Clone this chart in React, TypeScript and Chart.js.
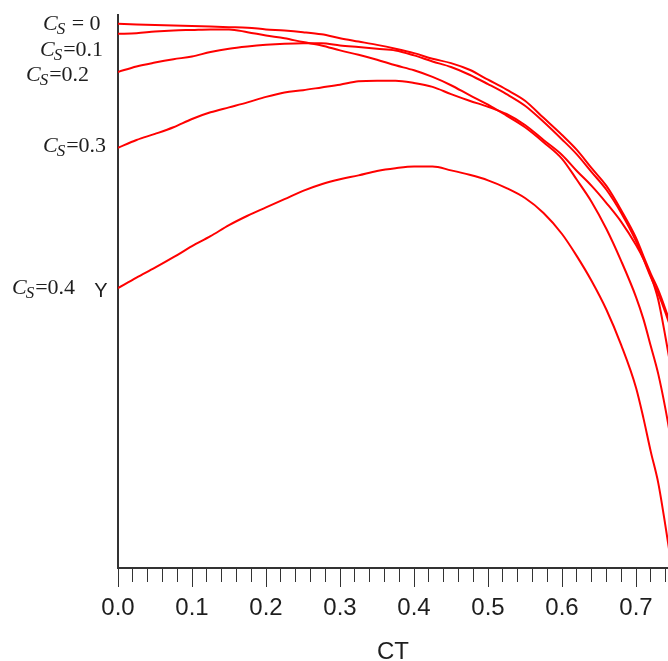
import { useEffect, useRef } from "react";
import { Chart, registerables } from "chart.js";

Chart.register(...registerables);

// Thrust coefficient CT (horizontal axis)
const ctValues = [
  0, 0.025, 0.05, 0.075, 0.1, 0.125, 0.15, 0.175, 0.2, 0.225, 0.25, 0.275, 0.3,
  0.325, 0.35, 0.375, 0.4, 0.425, 0.45, 0.475, 0.5, 0.525, 0.55, 0.575, 0.6,
  0.62, 0.64, 0.66, 0.68, 0.7, 0.71, 0.72, 0.73, 0.74, 0.75,
];

// Y for each swirl coefficient Cs
const yCs0 = [
  0.984, 0.983, 0.982, 0.981, 0.98, 0.979, 0.978, 0.977, 0.974, 0.972, 0.969,
  0.965, 0.958, 0.952, 0.946, 0.939, 0.931, 0.921, 0.913, 0.901, 0.883, 0.865,
  0.845, 0.814, 0.783, 0.756, 0.723, 0.691, 0.647, 0.597, 0.564, 0.532, 0.503,
  0.467, 0.427,
];
const yCs01 = [
  0.966, 0.967, 0.97, 0.972, 0.973, 0.974, 0.974, 0.969, 0.963, 0.958, 0.951,
  0.945, 0.936, 0.928, 0.919, 0.909, 0.9, 0.888, 0.873, 0.855, 0.838, 0.818,
  0.797, 0.77, 0.74, 0.702, 0.662, 0.613, 0.555, 0.49, 0.45, 0.401, 0.351,
  0.286, 0.21,
];
const yCs02 = [
  0.897, 0.907, 0.914, 0.92, 0.925, 0.933, 0.939, 0.943, 0.946, 0.948, 0.949,
  0.949, 0.945, 0.942, 0.939, 0.936, 0.927, 0.916, 0.906, 0.892, 0.875, 0.857,
  0.836, 0.807, 0.775, 0.748, 0.716, 0.684, 0.642, 0.591, 0.559, 0.526, 0.496,
  0.461, 0.421,
];
const yCs03 = [
  0.76, 0.774, 0.785, 0.797, 0.812, 0.824, 0.833, 0.842, 0.852, 0.86, 0.864,
  0.869, 0.874, 0.88, 0.881, 0.881, 0.877, 0.87, 0.857, 0.845, 0.834, 0.821,
  0.801, 0.774, 0.747, 0.718, 0.691, 0.66, 0.626, 0.584, 0.559, 0.528, 0.485,
  0.416, 0.34,
];
const yCs04 = [
  0.506, 0.525, 0.543, 0.562, 0.582, 0.6, 0.62, 0.637, 0.652, 0.667, 0.682,
  0.694, 0.703, 0.71, 0.718, 0.723, 0.726, 0.726, 0.719, 0.711, 0.701, 0.687,
  0.669, 0.642, 0.604, 0.564, 0.519, 0.467, 0.403, 0.326, 0.271, 0.21, 0.154,
  0.074, -0.013,
];

const seriesValues = [yCs0, yCs01, yCs02, yCs03, yCs04];
const csLabelTails = [" = 0", "=0.1", "=0.2", "=0.3", "=0.4"];
const xTickLabels = ["0.0", "0.1", "0.2", "0.3", "0.4", "0.5", "0.6", "0.7"];

// where each Cs label sits: left edge in px, baseline offset from the curve start
const labelPlacement = [
  { x: 43, dy: 6 },
  { x: 40, dy: 22 },
  { x: 26, dy: 9 },
  { x: 43, dy: 4 },
  { x: 12, dy: 6 },
];

const CT_MAX = 0.7432;
const AXIS_COLOR = "#333333";
const TEXT_COLOR = "#1e1e1e";
const LINE_COLOR = "#ff0000";

const curveLabelsPlugin = {
  id: "curveLabels",
  afterDraw(chart: any) {
    const { ctx, chartArea, scales } = chart;
    ctx.save();
    ctx.fillStyle = TEXT_COLOR;
    ctx.textAlign = "left";
    ctx.textBaseline = "alphabetic";
    seriesValues.forEach((vals, i) => {
      const base = scales.y.getPixelForValue(vals[0]) + labelPlacement[i].dy;
      let x = labelPlacement[i].x;
      ctx.font = "italic 22px 'Liberation Serif'";
      ctx.fillText("C", x, base);
      x += ctx.measureText("C").width;
      ctx.font = "italic 17px 'Liberation Serif'";
      ctx.fillText("S", x - 1, base + 4);
      x += ctx.measureText("S").width;
      ctx.font = "22px 'Liberation Serif'";
      ctx.fillText(csLabelTails[i], x, base);
    });
    ctx.font = "20px 'Liberation Sans'";
    ctx.textAlign = "center";
    ctx.textBaseline = "middle";
    ctx.fillText("Y", chartArea.left - 17, (chartArea.top + chartArea.bottom) / 2);
    ctx.restore();
  },
};

export default function App() {
  const canvasRef = useRef<HTMLCanvasElement | null>(null);

  useEffect(() => {
    const canvas = canvasRef.current;
    if (!canvas) return;
    const chart = new Chart(canvas, {
      type: "line",
      data: {
        datasets: seriesValues.map((vals, i) => ({
          label: "Cs" + csLabelTails[i],
          data: ctValues.map((ct, j) => ({ x: ct, y: vals[j] })),
          borderColor: LINE_COLOR,
          borderWidth: 2,
          pointRadius: 0,
          fill: false,
          cubicInterpolationMode: "monotone" as const,
        })),
      },
      options: {
        responsive: false,
        animation: false,
        devicePixelRatio: 1,
        layout: { padding: { top: 15, left: 0, right: 0, bottom: 0 } },
        plugins: {
          legend: { display: false },
          tooltip: { enabled: false },
        },
        scales: {
          x: {
            type: "linear",
            position: "bottom",
            weight: 1,
            min: 0,
            max: CT_MAX,
            ticks: {
              stepSize: 0.1,
              includeBounds: false,
              color: TEXT_COLOR,
              font: { family: "'Liberation Sans'", size: 24 },
              padding: 7,
              maxRotation: 0,
              callback: (_v: any, index: number) => xTickLabels[index],
            },
            grid: {
              drawOnChartArea: false,
              drawTicks: true,
              tickLength: 19,
              tickColor: AXIS_COLOR,
              tickWidth: 1,
            },
            border: { display: true, color: AXIS_COLOR, width: 2 },
            title: {
              display: true,
              text: "CT",
              color: TEXT_COLOR,
              font: { family: "'Liberation Sans'", size: 24, lineHeight: 1 },
              padding: { top: 0, bottom: -3 },
            },
            afterFit: (scale: any) => {
              scale.height = 93;
            },
          },
          xMinor: {
            type: "linear",
            position: "bottom",
            weight: 0,
            min: 0,
            max: CT_MAX,
            ticks: { stepSize: 0.02, includeBounds: false, display: false },
            grid: {
              drawOnChartArea: false,
              drawTicks: true,
              tickLength: 14,
              tickColor: AXIS_COLOR,
              tickWidth: 1,
            },
            border: { display: false },
            afterFit: (scale: any) => {
              scale.height = 0;
            },
          },
          y: {
            type: "linear",
            min: 0,
            max: 1,
            ticks: { display: false },
            grid: { drawOnChartArea: false, drawTicks: false },
            border: { display: true, color: AXIS_COLOR, width: 2 },
            afterFit: (scale: any) => {
              scale.width = 118;
            },
          },
        },
      },
      plugins: [curveLabelsPlugin],
    });
    return () => chart.destroy();
  }, []);

  return (
    <div style={{ position: "absolute", left: 0, top: 0, width: 668, height: 661, background: "#fff" }}>
      <canvas ref={canvasRef} width={668} height={661} />
    </div>
  );
}
